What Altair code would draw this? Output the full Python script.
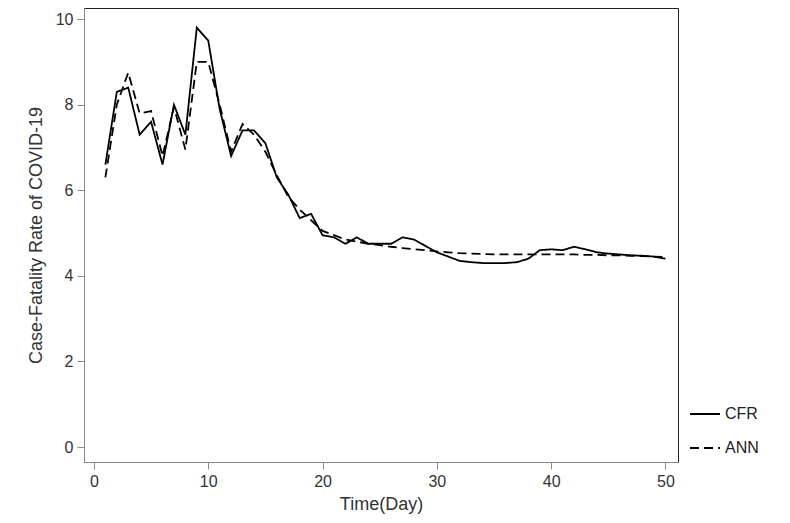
import altair as alt
import pandas as pd

days = list(range(1, 51))
cfr = [6.6, 8.3, 8.4, 7.3, 7.6, 6.6, 8.0, 7.3, 9.8, 9.5,
       7.9, 6.8, 7.4, 7.4, 7.1, 6.3, 5.9, 5.35, 5.45, 4.95,
       4.9, 4.75, 4.9, 4.75, 4.75, 4.75, 4.9, 4.85, 4.7, 4.55,
       4.45, 4.35, 4.32, 4.3, 4.3, 4.3, 4.32, 4.4, 4.6, 4.62,
       4.6, 4.68, 4.62, 4.55, 4.52, 4.5, 4.48, 4.47, 4.45, 4.4]
ann = [6.3, 8.0, 8.75, 7.8, 7.85, 6.8, 7.95, 6.95, 9.0, 9.0,
       8.0, 6.9, 7.55, 7.3, 6.9, 6.35, 5.85, 5.55, 5.3, 5.05,
       4.95, 4.85, 4.8, 4.75, 4.72, 4.68, 4.65, 4.62, 4.6, 4.57,
       4.55, 4.53, 4.52, 4.51, 4.5, 4.5, 4.5, 4.5, 4.5, 4.5,
       4.5, 4.5, 4.49, 4.49, 4.48, 4.48, 4.47, 4.46, 4.45, 4.44]

df = pd.concat([
    pd.DataFrame({"day": days, "rate": cfr, "series": "CFR"}),
    pd.DataFrame({"day": days, "rate": ann, "series": "ANN"}),
])

font = "Liberation Sans"

chart = alt.Chart(df).mark_line(strokeWidth=1.8, color="black").encode(
    x=alt.X("day:Q", title="Time(Day)",
            scale=alt.Scale(domain=[-0.87, 51.1], nice=False, zero=False),
            axis=alt.Axis(values=[0, 10, 20, 30, 40, 50], grid=False)),
    y=alt.Y("rate:Q", title="Case-Fatality Rate of COVID-19",
            scale=alt.Scale(domain=[-0.35, 10.26], nice=False),
            axis=alt.Axis(values=[0, 2, 4, 6, 8, 10], grid=False)),
    strokeDash=alt.StrokeDash("series:N",
        scale=alt.Scale(domain=["CFR", "ANN"], range=[[1, 0], [9, 5]]),
        legend=alt.Legend(title=None, orient="none", legendX=605, legendY=390,
                          symbolType="stroke", symbolSize=900, symbolStrokeWidth=1.8,
                          symbolStrokeColor="black", labelFontSize=16, labelFont=font,
                          labelColor="#222", rowPadding=10)),
).properties(
    width=594, height=454,
    padding={"left": 76, "top": 0, "right": 100, "bottom": 60},
    autosize=alt.AutoSizeParams(type="none"),
    background="white",
).configure_axis(
    domainColor="#888", tickColor="#888", tickSize=7, labelFont=font, titleFont=font,
    labelFontSize=16, titleFontSize=18, labelColor="#333", titleColor="#333",
    titleFontWeight="normal", labelPadding=4,
).configure_axisX(titlePadding=6).configure_axisY(titlePadding=10).configure_view(
    stroke="#222", strokeWidth=1
)

chart.save("out.html", embed_options={"renderer": "svg", "actions": False})
